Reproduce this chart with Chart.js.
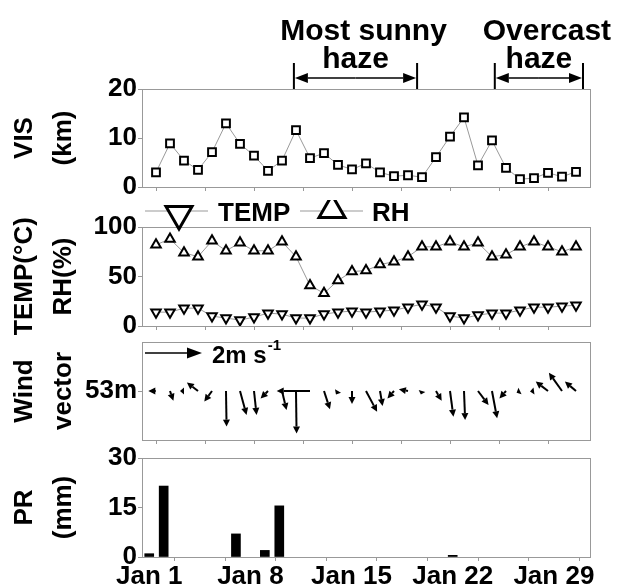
<!DOCTYPE html>
<html>
<head>
<meta charset="utf-8">
<script src="https://cdn.jsdelivr.net/npm/chart.js@4.4.0/dist/chart.umd.min.js"></script>
<style>
  html, body { margin: 0; padding: 0; background: #fff; overflow: hidden; }
  #wrap { position: relative; width: 618px; height: 586px; }
  canvas { position: absolute; left: 0; }
</style>
</head>
<body>
<div id="wrap">
  <canvas id="visChart" width="618" height="200" style="top:0px"></canvas>
  <canvas id="metChart" width="618" height="135" style="top:200px"></canvas>
  <canvas id="windChart" width="618" height="115" style="top:335px"></canvas>
  <canvas id="prChart" width="618" height="146" style="top:440px"></canvas>
</div>
<script>
// days of January
var days = [1, 2, 3, 4, 5, 6, 7, 8, 9, 10, 11, 12, 13, 14, 15, 16, 17, 18, 19, 20, 21, 22, 23, 24, 25, 26, 27, 28, 29, 30, 31];

// visibility (km)
var visKm = [3.0, 8.9, 5.4, 3.5, 7.1, 13.0, 8.8, 6.4, 3.3, 5.4, 11.6, 5.9, 6.9, 4.5, 3.6, 4.8,
             3.0, 2.2, 2.4, 2.0, 6.1, 10.3, 14.2, 4.4, 9.5, 3.9, 1.6, 1.8, 2.9, 2.1, 3.1];

// relative humidity (%) and temperature (C)
var rhPct = [82, 88, 74, 70, 86, 76, 84, 76, 76, 85, 70, 41, 33, 46, 55, 56,
             62, 65, 70, 80, 80, 85, 80, 84, 70, 72, 80, 85, 80, 75, 80];
var tempC = [14, 14, 18, 18, 10, 8, 6, 9, 13, 12, 8, 8, 12, 14, 15, 14,
             15, 16, 19, 22, 19, 10, 8, 11, 13, 13, 16, 19, 19, 20, 21];

// wind vector components at 53 m (m/s)
var windU = [-0.27, 0.12, -0.14, -0.39, -0.27, 0.02, 0.23, 0.09, -0.26, 0.16, 0.02, -1.17, 0.21, -0.07, 0.0, 0.39,
             0.09, -0.23, -0.32, -0.04, 0.20, 0.12, 0.04, 0.37, 0.18, -0.23, -0.12, -0.14, -0.43, -0.46, -0.39];
var windV = [0.0, -0.34, 0.0, 0.30, -0.37, -1.25, -0.84, -0.84, -0.26, -0.67, -1.49, 0.0, -0.64, -0.12, -0.46, -0.73,
             -0.53, -0.26, 0.06, -0.12, -0.34, -0.90, -1.02, -0.49, -0.96, -0.26, -0.06, -0.02, 0.33, 0.64, 0.33];
var refWind = 2; // m/s, reference arrow

// precipitation (mm)
var prDays = [1, 2, 7, 9, 10, 22];
var prMm = [1.0, 21.5, 7.0, 2.0, 15.5, 0.5];

// axes
var dateTicks = [1, 4.5, 8, 11.5, 15, 18.5, 22, 25.5, 29];
var visTicks = [0, 10, 20];
var metTicks = [0, 50, 100];
var prTicks = [0, 15, 30];

// haze periods (day positions)
var periods = [
  { top: 'Most sunny', bottom: 'haze', from: 10.85, to: 19.65 },
  { top: 'Overcast', bottom: 'haze', from: 25.2, to: 31.5 }
];

Chart.defaults.font.family = "'Liberation Sans', Arial, sans-serif";
Chart.defaults.color = '#000';

var AXIS_GRAY = '#999';
var BOLD26 = { size: 26, weight: 'bold' };

function noPad(s) {
  s.paddingTop = 0; s.paddingBottom = 0; s.paddingLeft = 0; s.paddingRight = 0;
}

function yAxis(min, max, ticks, title, labelFn) {
  return {
    min: min,
    max: max,
    afterFit: function (s) { s.width = 142; noPad(s); },
    afterBuildTicks: function (s) { s.ticks = ticks.map(function (v) { return { value: v }; }); },
    ticks: {
      font: BOLD26, color: '#000', padding: 1, autoSkip: false,
      callback: labelFn || function (v) { return v; }
    },
    grid: { drawOnChartArea: false, tickLength: 4, color: AXIS_GRAY },
    border: { color: AXIS_GRAY },
    title: {
      display: true, text: title, color: '#000',
      font: { size: 26, weight: 'bold', lineHeight: 1.5 },
      padding: { top: 5.5, bottom: 0 }
    }
  };
}

function xAxisPlain(h) {
  return {
    type: 'linear', min: 0, max: 32,
    afterFit: function (s) { s.height = h; noPad(s); },
    afterBuildTicks: function (s) { s.ticks = dateTicks.map(function (v) { return { value: v }; }); },
    ticks: { display: false },
    grid: { drawOnChartArea: false, tickLength: 4, color: AXIS_GRAY },
    border: { color: AXIS_GRAY }
  };
}

var framePlugin = {
  id: 'frame',
  beforeDatasetsDraw: function (chart) {
    var a = chart.chartArea, c = chart.ctx;
    c.save();
    c.strokeStyle = AXIS_GRAY;
    c.lineWidth = 1;
    c.strokeRect(Math.round(a.left) + 0.5, Math.round(a.top) + 0.5, Math.round(a.right - a.left), Math.round(a.bottom - a.top));
    c.restore();
  }
};

function arrow(c, x0, y0, x1, y1, head, half) {
  var dx = x1 - x0, dy = y1 - y0, len = Math.sqrt(dx * dx + dy * dy);
  if (len < 0.5) return;
  var ux = dx / len, uy = dy / len;
  var hl = Math.min(head, len);
  var bx = x1 - ux * hl, by = y1 - uy * hl;
  c.beginPath(); c.moveTo(x0, y0); c.lineTo(bx, by); c.stroke();
  c.beginPath();
  c.moveTo(x1, y1);
  c.lineTo(bx - uy * half, by + ux * half);
  c.lineTo(bx + uy * half, by - ux * half);
  c.closePath(); c.fill();
}

function pts(ys) {
  return days.map(function (d, i) { return { x: d, y: ys[i] }; });
}

function lineSet(label, ys, style, rot) {
  return {
    label: label, data: pts(ys),
    borderColor: AXIS_GRAY, borderWidth: 1,
    pointStyle: style, pointRotation: rot || 0, pointRadius: 5.5,
    pointBorderWidth: 2, pointBorderColor: '#000', pointBackgroundColor: '#fff',
    tension: 0
  };
}

// --- haze annotations above VIS panel
var hazePlugin = {
  id: 'haze',
  afterDraw: function (chart) {
    var c = chart.ctx, xs = chart.scales.x, top = chart.chartArea.top;
    c.save();
    c.fillStyle = '#000'; c.strokeStyle = '#000';
    c.textAlign = 'center'; c.textBaseline = 'alphabetic';
    c.font = "bold 30px 'Liberation Sans', Arial, sans-serif";
    periods.forEach(function (p) {
      var x1 = xs.getPixelForValue(p.from), x2 = xs.getPixelForValue(p.to), xm = (x1 + x2) / 2;
      c.lineWidth = 2;
      c.beginPath();
      c.moveTo(x1, top - 26); c.lineTo(x1, top);
      c.moveTo(x2, top - 26); c.lineTo(x2, top);
      c.stroke();
      c.lineWidth = 1.5;
      arrow(c, xm, top - 11, x1 + 1, top - 11, 13, 5);
      arrow(c, xm, top - 11, x2 - 1, top - 11, 13, 5);
      c.fillText(p.top, xm + 8, top - 49);
      c.fillText(p.bottom, xm, top - 21);
    });
    c.restore();
  }
};

new Chart(document.getElementById('visChart'), {
  type: 'line',
  data: { datasets: [lineSet('VIS', visKm, 'rect')] },
  options: {
    responsive: false, animation: false,
    layout: { padding: { top: 89, right: 28, left: 0, bottom: 0 } },
    plugins: { legend: { display: false }, tooltip: { enabled: false } },
    scales: { x: xAxisPlain(13), y: yAxis(0, 20, visTicks, ['VIS', '(km)']) }
  },
  plugins: [framePlugin, hazePlugin]
});

// --- legend for TEMP / RH
function tri(c, x, y, r, down) {
  var s = down ? -1 : 1;
  c.beginPath();
  c.moveTo(x, y - s * r);
  c.lineTo(x + r * 0.866, y + s * r / 2);
  c.lineTo(x - r * 0.866, y + s * r / 2);
  c.closePath();
  c.fillStyle = '#fff'; c.fill();
  c.stroke();
}

var metLegend = {
  id: 'metLegend',
  afterDraw: function (chart) {
    var c = chart.ctx, left = chart.chartArea.left, ly = chart.chartArea.top - 16;
    c.save();
    c.strokeStyle = AXIS_GRAY; c.lineWidth = 1.2;
    c.beginPath();
    c.moveTo(left + 3, ly); c.lineTo(left + 66, ly);
    c.moveTo(left + 158, ly); c.lineTo(left + 221, ly);
    c.stroke();
    c.strokeStyle = '#000'; c.lineWidth = 3;
    tri(c, left + 37, ly + 3, 15, true);
    tri(c, left + 190, ly - 1, 15, false);
    c.fillStyle = '#000';
    c.font = "bold 26px 'Liberation Sans', Arial, sans-serif";
    c.textBaseline = 'alphabetic'; c.textAlign = 'left';
    c.fillText('TEMP', left + 76, ly + 10);
    c.fillText('RH', left + 230, ly + 10);
    c.restore();
  }
};

new Chart(document.getElementById('metChart'), {
  type: 'line',
  data: { datasets: [lineSet('RH', rhPct, 'triangle', 0), lineSet('TEMP', tempC, 'triangle', 180)] },
  options: {
    responsive: false, animation: false,
    layout: { padding: { top: 27, right: 28, left: 0, bottom: 0 } },
    plugins: { legend: { display: false }, tooltip: { enabled: false } },
    scales: { x: xAxisPlain(9), y: yAxis(0, 100, metTicks, ['TEMP(°C)', 'RH(%)']) }
  },
  plugins: [framePlugin, metLegend]
});

// --- wind vectors
var windPlugin = {
  id: 'wind',
  afterDatasetsDraw: function (chart) {
    var c = chart.ctx, xs = chart.scales.x, ys = chart.scales.y;
    var y0 = ys.getPixelForValue(0);
    var ppu = y0 - ys.getPixelForValue(1);
    c.save();
    c.strokeStyle = '#000'; c.fillStyle = '#000'; c.lineWidth = 2;
    days.forEach(function (d, i) {
      var x = xs.getPixelForValue(d);
      arrow(c, x, y0, x + windU[i] * ppu, y0 - windV[i] * ppu, 7, 3.5);
    });
    // reference arrow
    var a = chart.chartArea, ry = a.top + 11, rx = a.left + 3;
    c.lineWidth = 1.5;
    arrow(c, rx, ry, rx + refWind * ppu, ry, 15, 5.5);
    c.font = "bold 24px 'Liberation Sans', Arial, sans-serif";
    c.textAlign = 'left'; c.textBaseline = 'alphabetic';
    c.fillText(refWind + 'm s', rx + refWind * ppu + 10, ry + 10);
    var w = c.measureText(refWind + 'm s').width;
    c.font = "bold 15px 'Liberation Sans', Arial, sans-serif";
    c.fillText('-1', rx + refWind * ppu + 11 + w, ry - 3);
    c.restore();
  }
};

new Chart(document.getElementById('windChart'), {
  type: 'scatter',
  data: { datasets: [{ label: 'Wind', data: pts(days.map(function () { return 0; })), pointRadius: 0 }] },
  options: {
    responsive: false, animation: false,
    layout: { padding: { top: 7, right: 28, left: 0, bottom: 0 } },
    plugins: { legend: { display: false }, tooltip: { enabled: false } },
    scales: {
      x: xAxisPlain(10),
      y: yAxis(-1.72, 1.72, [0], ['Wind', 'vector'], function () { return '53m'; })
    }
  },
  plugins: [framePlugin, windPlugin]
});

// --- precipitation
new Chart(document.getElementById('prChart'), {
  type: 'bar',
  data: {
    datasets: [{
      label: 'PR',
      data: prDays.map(function (d, i) { return { x: d, y: prMm[i] }; }),
      backgroundColor: '#000', borderWidth: 0, barThickness: 9
    }]
  },
  options: {
    responsive: false, animation: false,
    layout: { padding: { top: 18, right: 28, left: 0, bottom: 0 } },
    plugins: { legend: { display: false }, tooltip: { enabled: false } },
    scales: {
      x: {
        type: 'linear', min: 0.5, max: 31.5, offset: false,
        afterFit: function (s) { s.height = 29; noPad(s); },
        afterBuildTicks: function (s) { s.ticks = dateTicks.map(function (v) { return { value: v }; }); },
        ticks: {
          font: BOLD26, color: '#000', padding: 0, autoSkip: false, maxRotation: 0,
          callback: function (v) { return Number.isInteger(v) ? 'Jan ' + v : ''; }
        },
        grid: { drawOnChartArea: false, tickLength: 4, color: AXIS_GRAY },
        border: { color: AXIS_GRAY }
      },
      y: yAxis(0, 30, prTicks, ['PR', '(mm)'])
    }
  },
  plugins: [framePlugin]
});
</script>
</body>
</html>
